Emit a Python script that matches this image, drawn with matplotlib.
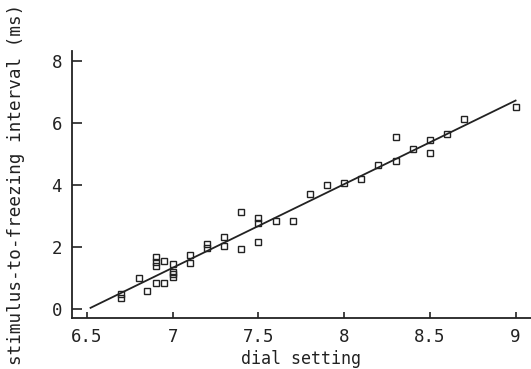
import matplotlib
matplotlib.use('Agg')
import matplotlib.pyplot as plt

dial = [6.7, 6.7, 6.8, 6.85, 6.9, 6.9, 6.9, 6.9, 6.95, 6.95,
        7.0, 7.0, 7.0, 7.0, 7.1, 7.1, 7.2, 7.2, 7.3, 7.3,
        7.4, 7.4, 7.5, 7.5, 7.5, 7.6, 7.7, 7.8, 7.9, 8.0,
        8.1, 8.2, 8.3, 8.3, 8.4, 8.5, 8.5, 8.6, 8.7, 9.0]
interval = [0.48, 0.35, 1.01, 0.57, 1.67, 1.51, 1.39, 0.84, 0.84, 1.56,
            1.44, 1.20, 1.12, 1.04, 1.75, 1.48, 2.10, 1.97, 2.31, 2.04,
            3.13, 1.93, 2.92, 2.78, 2.16, 2.85, 2.85, 3.71, 3.99, 4.07,
            4.18, 4.65, 5.55, 4.76, 5.15, 5.44, 5.03, 5.63, 6.12, 6.51]

# 회귀선 끝점
fit_x = [6.52, 9.0]
fit_y = [0.04, 6.72]

xticks = [6.5, 7, 7.5, 8, 8.5, 9]
xticklabels = ['6.5', '7', '7.5', '8', '8.5', '9']
yticks = [0, 2, 4, 6, 8]

ink = '#222222'
plt.rcParams['font.family'] = ['DejaVu Sans Mono']

fig = plt.figure(figsize=(5.31, 3.69), dpi=100)
ax = fig.add_axes([0.135, 0.138, 0.865, 0.724])

ax.plot(fit_x, fit_y, color=ink, lw=1.3)
ax.plot(dial, interval, 's', ms=4, mfc='none', mec=ink, mew=1.0)

ax.set_xlim(6.41, 9.09)
ax.set_ylim(-0.29, 8.32)
ax.set_xticks(xticks)
ax.set_xticklabels(xticklabels)
ax.set_yticks(yticks)

for s in ['top', 'right']:
    ax.spines[s].set_visible(False)
for s in ['left', 'bottom']:
    ax.spines[s].set_linewidth(1.3)
    ax.spines[s].set_color(ink)

ax.tick_params(axis='x', direction='in', length=4, width=1.2, color=ink,
               labelsize=12.5, labelcolor=ink, pad=7)
ax.tick_params(axis='y', direction='in', length=7, width=1.2, color=ink,
               labelsize=12.5, labelcolor=ink, pad=7)

ax.set_xlabel('dial setting', fontsize=12, color=ink, labelpad=3)
ax.set_ylabel('stimulus-to-freezing interval (ms)', fontsize=12.7, color=ink, labelpad=19)

plt.savefig('out.png', dpi=100)
